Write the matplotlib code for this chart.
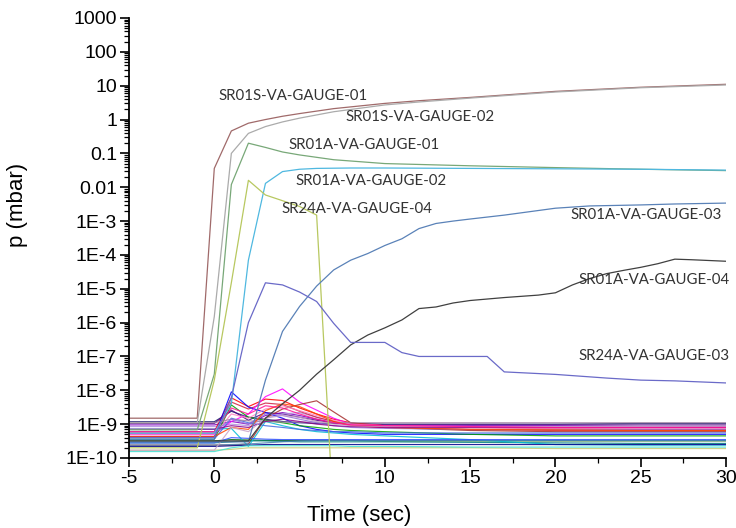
import matplotlib
matplotlib.use("Agg")
import matplotlib.pyplot as plt
from matplotlib.ticker import FixedLocator, LogLocator, NullFormatter

plt.rcParams["axes.unicode_minus"] = False

# ---- labelled gauges (time in s, pressure in mbar) ----
t_sr01s_01 = [-5, -1, 0, 1, 2, 3, 4, 5, 7, 10, 12, 15, 20, 25, 30]
p_sr01s_01 = [1.5e-9, 1.5e-9, 0.036, 0.46, 0.78, 1.0, 1.25, 1.5, 2.1, 3.0, 3.6, 4.5, 6.8, 9.0, 11.0]

t_sr01s_02 = [-5, -1, 0, 1, 2, 3, 4, 5, 7, 10, 12, 15, 20, 25, 30]
p_sr01s_02 = [1.1e-9, 1.1e-9, 1.5e-6, 0.1, 0.39, 0.62, 0.85, 1.1, 1.7, 2.7, 3.3, 4.3, 6.5, 8.7, 10.5]

t_sr01a_01 = [-5, -1, 0, 1, 2, 3, 4, 5, 7, 10, 15, 20, 25, 30]
p_sr01a_01 = [6.8e-10, 6.8e-10, 3e-8, 0.012, 0.2, 0.15, 0.11, 0.09, 0.065, 0.05, 0.043, 0.038, 0.034, 0.031]

t_sr01a_02 = [-5, 0, 1, 2, 3, 4, 5, 6, 8, 10, 15, 20, 25, 30]
p_sr01a_02 = [5.4e-10, 5.4e-10, 4e-9, 7e-5, 0.013, 0.029, 0.034, 0.036, 0.037, 0.037, 0.036, 0.035, 0.034, 0.032]

t_sr24a_04 = [-5, -1, 0, 1, 2, 3, 4, 5, 6, 7]
p_sr24a_04 = [2e-10, 2e-10, 2e-8, 1.5e-5, 0.016, 0.0059, 0.004, 0.0027, 0.0015, 1.6e-12]

t_sr01a_03 = [-5, 2, 3, 4, 5, 6, 7, 8, 9, 10, 11, 12, 13, 14, 15, 17, 20, 22, 25, 27, 30]
p_sr01a_03 = [3e-10, 3e-10, 2e-8, 5.5e-7, 3e-6, 1.2e-5, 3.6e-5, 7e-5, 1.1e-4, 1.9e-4, 3e-4,
              6e-4, 8.5e-4, 1e-3, 1.15e-3, 1.5e-3, 2.4e-3, 2.8e-3, 3e-3, 3.2e-3, 3.4e-3]

t_sr01a_04 = [-5, 2, 3, 4, 5, 6, 7, 8, 9, 10, 11, 12, 13, 14, 15, 17, 19, 20, 21, 22, 23, 24, 25, 26, 27, 28, 30]
p_sr01a_04 = [3.2e-10, 3.2e-10, 1.5e-9, 4e-9, 1e-8, 3e-8, 8e-8, 2.2e-7, 4.3e-7, 7e-7, 1.2e-6, 2.6e-6,
              2.9e-6, 3.8e-6, 4.5e-6, 5.5e-6, 6.5e-6, 7.6e-6, 1.3e-5, 2e-5, 2.8e-5, 3.5e-5, 4.3e-5,
              5.5e-5, 7.5e-5, 7.2e-5, 6.5e-5]

t_sr24a_03 = [-5, 0, 1, 2, 3, 4, 5, 6, 7, 8, 10, 11, 12, 16, 17, 20, 23, 25, 27, 30]
p_sr24a_03 = [4e-10, 4e-10, 6e-9, 1e-6, 1.5e-5, 1.3e-5, 8e-6, 4.2e-6, 9.5e-7, 2.6e-7, 2.6e-7,
              1.3e-7, 1e-7, 1e-7, 3.5e-8, 2.95e-8, 2.3e-8, 2.0e-8, 1.9e-8, 1.65e-8]

labelled = [
    ("SR01S-VA-GAUGE-01", t_sr01s_01, p_sr01s_01, "#a06a6a", 0.22, 4.97),
    ("SR01S-VA-GAUGE-02", t_sr01s_02, p_sr01s_02, "#ababab", 7.67, 1.19),
    ("SR01A-VA-GAUGE-01", t_sr01a_01, p_sr01a_01, "#78a878", 4.33, 0.178),
    ("SR01A-VA-GAUGE-02", t_sr01a_02, p_sr01a_02, "#4fb8e0", 4.74, 0.0155),
    ("SR24A-VA-GAUGE-04", t_sr24a_04, p_sr24a_04, "#b8c860", 3.91, 0.0023),
    ("SR01A-VA-GAUGE-03", t_sr01a_03, p_sr01a_03, "#5a82b8", 20.87, 0.0015),
    ("SR01A-VA-GAUGE-04", t_sr01a_04, p_sr01a_04, "#404040", 21.34, 1.8e-5),
    ("SR24A-VA-GAUGE-03", t_sr24a_03, p_sr24a_03, "#6a6ac8", 21.34, 1.02e-7),
]

# ---- remaining gauges near base pressure (values in units of 1e-10 mbar) ----
t_base = [-5, -1, 0, 1, 2, 3, 4, 5, 6, 7, 8, 10, 15, 20, 25, 30]
base_colors = [
    "#1a1a6e", "#4b0082", "#8000c0", "#b090e0", "#ff0000", "#d02040", "#0000ff",
    "#ff00ff", "#a52a2a", "#00a000", "#006400", "#008080", "#00bcd4", "#ff80c0",
    "#4169e1", "#00008b", "#c8c870", "#40e0d0", "#a080a0", "#9370db", "#ff4500",
    "#4682b4", "#8b008b", "#c8a2c8", "#3050ff", "#ff1493",
]
base_values = [
    [11.8, 11.8, 11.8, 24, 16, 14, 12, 11, 10.5, 10.5, 10.5, 10, 10, 10, 10.5, 10.5],
    [10.5, 10.5, 10.5, 26, 13, 22, 20, 16, 13, 11, 10, 9.5, 9.5, 9.5, 9.5, 9.5],
    [9.5, 9.5, 9.5, 12, 10, 18, 22, 18, 14, 11, 9.5, 9, 9, 9, 8.5, 8.5],
    [8.5, 8.5, 8.5, 10, 9, 15, 20, 22, 16, 12, 10, 9, 8.5, 8.5, 8.5, 8],
    [6.0, 6.0, 6.0, 60, 33, 55, 50, 30, 20, 14, 11, 9, 8, 7.5, 7, 7],
    [5.4, 5.4, 5.4, 45, 28, 42, 38, 24, 16, 12, 9.5, 8, 7, 6.5, 6.5, 6.5],
    [4.3, 4.3, 4.3, 90, 32, 22, 15, 9, 7, 6, 5.5, 5, 5, 5, 5, 5],
    [5.0, 5.0, 5.0, 12, 20, 65, 110, 45, 26, 15, 10, 9, 8.5, 8, 8, 8],
    [2.4, 2.4, 2.4, 2.4, 2.6, 15, 28, 38, 49, 23, 11, 8, 6.5, 6, 6, 6],
    [3.6, 3.6, 3.6, 37, 16, 13, 11, 9, 8, 7, 6.5, 6, 5, 4.5, 4.5, 4.5],
    [3.2, 3.2, 3.2, 3.5, 3.4, 3.3, 3.3, 3.3, 3.3, 3.3, 3.3, 3.2, 3.2, 3.2, 3.2, 3.2],
    [2.8, 2.8, 2.8, 3.0, 3.2, 3.2, 3.1, 3.0, 3.0, 3.0, 3.0, 3.0, 2.9, 2.8, 2.7, 2.7],
    [7.1, 7.1, 7.1, 7.5, 2.2, 12, 9, 7, 6, 5.5, 5, 4.5, 3.5, 2.5, 2.4, 2.4],
    [4.8, 4.8, 4.8, 20, 15, 28, 35, 25, 18, 13, 10, 9, 8, 7.5, 7.5, 7.5],
    [3.6, 3.6, 3.6, 15, 11, 9, 8, 7, 6.5, 6, 6, 5.5, 5.5, 5.5, 5.5, 5.5],
    [2.2, 2.2, 2.2, 2.3, 2.4, 2.5, 2.5, 2.5, 2.5, 2.5, 2.5, 2.5, 2.5, 2.5, 2.5, 2.5],
    [1.7, 1.7, 1.7, 1.8, 2.0, 2.0, 2.0, 2.0, 2.0, 2.0, 2.0, 2.0, 2.0, 1.9, 1.9, 1.9],
    [1.55, 1.55, 1.55, 2.0, 2.3, 2.3, 2.3, 2.3, 2.3, 2.3, 2.2, 2.2, 2.1, 2.1, 2.1, 2.1],
    [11.0, 11.0, 11.0, 14, 12.5, 12, 11.5, 11.5, 11.5, 11.2, 11, 11, 11, 11, 11, 11],
    [6.0, 6.0, 6.0, 14, 10, 20, 18, 14, 11, 9, 8, 7.5, 7, 7, 7, 7],
    [4.3, 4.3, 4.3, 8, 7, 25, 40, 33, 20, 12, 9, 8, 7, 6.8, 6.5, 6.5],
    [2.4, 2.4, 2.4, 2.5, 2.6, 2.8, 3.0, 3.2, 3.3, 3.3, 3.3, 3.3, 3.3, 3.3, 3.3, 3.3],
    [7.1, 7.1, 7.1, 9, 8, 12, 14, 12, 10, 9, 8.5, 8, 8, 8, 8, 8],
    [1.7, 1.7, 1.7, 8, 6, 15, 18, 16, 12, 10, 9, 8.5, 8.5, 8.5, 8.5, 8.5],
    [2.8, 2.8, 2.8, 4.0, 3.8, 3.6, 3.5, 3.5, 3.5, 3.5, 3.5, 3.5, 3.5, 3.5, 3.5, 3.5],
    [6.0, 6.0, 6.0, 30, 20, 35, 30, 20, 14, 11, 9.5, 9, 8.5, 8, 8, 8],
]

y_ticks = [1e-10, 1e-9, 1e-8, 1e-7, 1e-6, 1e-5, 1e-4, 1e-3, 1e-2, 1e-1, 1, 10, 100, 1000]
y_tick_labels = ["1E-10", "1E-9", "1E-8", "1E-7", "1E-6", "1E-5", "1E-4", "1E-3",
                 "0.01", "0.1", "1", "10", "100", "1000"]
x_ticks = [-5, 0, 5, 10, 15, 20, 25, 30]
x_tick_labels = ["-5", "0", "5", "10", "15", "20", "25", "30"]

fig = plt.figure(figsize=(7.36, 5.28), dpi=100)
ax = fig.add_axes([129 / 736, 70 / 528, 597 / 736, 440 / 528])

for col, vals in zip(base_colors, base_values):
    ax.plot(t_base, [v * 1e-10 for v in vals], color=col, lw=0.85, alpha=0.85)

for name, t, p, col, lx, ly in labelled:
    ax.plot(t, p, color=col, lw=0.9)
    ax.text(lx, ly, name, ha="left", va="center", fontsize=10.8,
            family="Lato", color="#333333")

ax.set_yscale("log")
ax.set_xlim(-5, 30)
ax.set_ylim(1e-10, 1000)

ax.set_yticks(y_ticks)
ax.set_yticklabels(y_tick_labels)
ax.yaxis.set_minor_locator(LogLocator(base=10, subs=range(2, 10), numticks=50))
ax.yaxis.set_minor_formatter(NullFormatter())
ax.set_xticks(x_ticks)
ax.set_xticklabels(x_tick_labels)
ax.xaxis.set_minor_locator(FixedLocator([-2.5, 2.5, 7.5, 12.5, 17.5, 22.5, 27.5]))

for s in ("top", "right"):
    ax.spines[s].set_visible(False)
for s in ("left", "bottom"):
    ax.spines[s].set_linewidth(1.3)

ax.tick_params(which="major", direction="out", length=6.5, width=1.2,
               labelsize=14, pad=2)
ax.tick_params(which="minor", direction="out", length=3.5, width=0.9)
for lab in ax.get_xticklabels() + ax.get_yticklabels():
    lab.set_family("Liberation Sans")

fig.text(17 / 736, 1 - 205 / 528, "p (mbar)", rotation=90, ha="center", va="center",
         fontsize=16, family="Liberation Sans")
fig.text(359 / 736, 1 - 516 / 528, "Time (sec)", ha="center", va="center",
         fontsize=16, family="Liberation Sans")

fig.savefig("out.png", dpi=100)
